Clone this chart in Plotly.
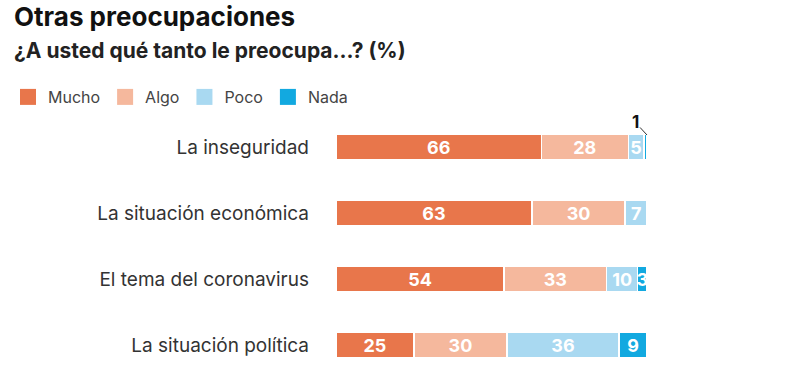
import plotly.graph_objects as go

categories = ["La inseguridad", "La situación económica", "El tema del coronavirus", "La situación política"]
series_names = ["Mucho", "Algo", "Poco", "Nada"]
mucho = [66, 63, 54, 25]
algo = [28, 30, 33, 30]
poco = [5, 7, 10, 36]
nada = [1, 0, 3, 9]
nada_labels = ["", "", "3", "9"]
colors = ["#E8764B", "#F5B89D", "#A9D9F1", "#12A9E0"]

values = [mucho, algo, poco, nada]
texts = [[str(v) for v in mucho], [str(v) for v in algo], [str(v) for v in poco], nada_labels]

W, H = 800, 388
ml, mr, mt, mb = 336, 153, 114, 10
ph = H - mt - mb
pw = W - ml - mr

def px_x(p):
    return (p - ml) / pw

def px_y(p):
    return (H - mb - p) / ph

fig = go.Figure()
for name, vals, txt, col in zip(series_names, values, texts, colors):
    fig.add_trace(go.Bar(
        y=categories, x=vals, name=name, orientation="h",
        marker=dict(color=col, line=dict(color="white", width=1.5)),
        text=txt, textposition="inside", insidetextanchor="middle", textangle=0,
        textfont=dict(color="white", size=18, family="Inter", weight="bold"),
        width=0.38, hoverinfo="skip", showlegend=False,
    ))
    fig.add_trace(go.Scatter(
        x=[None], y=[None], mode="markers", name=name,
        marker=dict(symbol="square", size=19, color=col), hoverinfo="skip",
    ))

fig.add_annotation(
    x=100, y=categories[0], xref="x", yref="y", yshift=12,
    text="<b>1</b>", showarrow=True, arrowhead=0, arrowwidth=1, arrowcolor="#333",
    ax=-12, ay=-13, font=dict(size=17, color="#111", family="Inter"),
)

fig.add_annotation(
    xref="paper", yref="paper", x=px_x(12), y=px_y(16), xanchor="left", yanchor="middle",
    text="<b>Otras preocupaciones</b>", showarrow=False,
    font=dict(size=26, color="#111", family="Inter", weight=800),
)
fig.add_annotation(
    xref="paper", yref="paper", x=px_x(12), y=px_y(50), xanchor="left", yanchor="middle",
    text="<b>¿A usted qué tanto le preocupa...? (%)</b>", showarrow=False,
    font=dict(size=21, color="#222", family="Inter"),
)

fig.update_layout(
    width=W, height=H, barmode="stack", bargap=0.6,
    margin=dict(l=ml, r=mr, t=mt, b=mb, autoexpand=False),
    plot_bgcolor="white", paper_bgcolor="white",
    font=dict(family="Inter", color="#333"),
    showlegend=True,
    uniformtext=dict(minsize=18, mode="show"),
    legend=dict(orientation="h", x=px_x(8), y=px_y(97), xanchor="left", yanchor="middle",
                font=dict(size=16, color="#444", family="Inter"), traceorder="normal",
                itemwidth=30),
    xaxis=dict(range=[0, 100], visible=False, fixedrange=True),
    yaxis=dict(autorange="reversed", showgrid=False, zeroline=False, showline=False,
               ticks="", tickfont=dict(size=19, color="#333", family="Inter"),
               ticklabelstandoff=26, automargin=False),
)

fig.write_html("out.html", config={"displayModeBar": False},
               post_script="document.body.style.margin='0';")
